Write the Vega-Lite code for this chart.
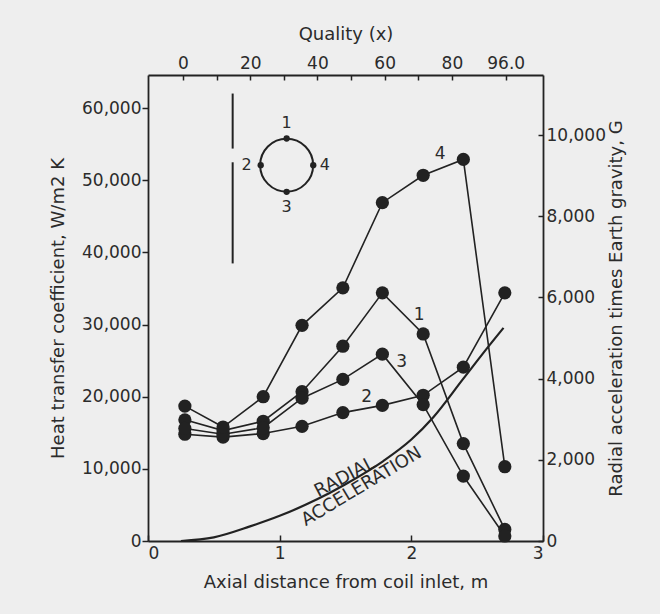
{
  "$schema": "https://vega.github.io/schema/vega-lite/v6.json",
  "width": 395,
  "height": 466,
  "autosize": {"type": "none"},
  "padding": {"left": 148, "top": 75, "right": 117, "bottom": 73},
  "background": "#eeeeee",
  "config": {
    "view": {"stroke": null},
    "font": "DejaVu Sans",
    "axis": {
      "grid": false,
      "domainColor": "#222222",
      "domainWidth": 1.8,
      "tickColor": "#222222",
      "tickWidth": 1.5,
      "labelFont": "DejaVu Sans",
      "labelFontSize": 17,
      "labelColor": "#2b2b2b",
      "titleFont": "DejaVu Sans",
      "titleFontSize": 18,
      "titleFontWeight": "normal",
      "titleColor": "#2b2b2b"
    }
  },
  "datasets": {
    "series": [
      {"series": "1", "d": 0.28, "h": 16800}, {"series": "1", "d": 0.57, "h": 15300}, {"series": "1", "d": 0.875, "h": 16600},
      {"series": "1", "d": 1.17, "h": 20700}, {"series": "1", "d": 1.48, "h": 27000}, {"series": "1", "d": 1.78, "h": 34400},
      {"series": "1", "d": 2.09, "h": 28700}, {"series": "1", "d": 2.395, "h": 13500}, {"series": "1", "d": 2.71, "h": 1600},
      {"series": "2", "d": 0.28, "h": 14800}, {"series": "2", "d": 0.57, "h": 14400}, {"series": "2", "d": 0.875, "h": 14900},
      {"series": "2", "d": 1.17, "h": 15900}, {"series": "2", "d": 1.48, "h": 17800}, {"series": "2", "d": 1.78, "h": 18800},
      {"series": "2", "d": 2.09, "h": 20200}, {"series": "2", "d": 2.395, "h": 24100}, {"series": "2", "d": 2.71, "h": 34400},
      {"series": "3", "d": 0.28, "h": 15600}, {"series": "3", "d": 0.57, "h": 14800}, {"series": "3", "d": 0.875, "h": 15700},
      {"series": "3", "d": 1.17, "h": 19800}, {"series": "3", "d": 1.48, "h": 22400}, {"series": "3", "d": 1.78, "h": 25900},
      {"series": "3", "d": 2.09, "h": 18900}, {"series": "3", "d": 2.395, "h": 9000}, {"series": "3", "d": 2.71, "h": 700},
      {"series": "4", "d": 0.28, "h": 18700}, {"series": "4", "d": 0.57, "h": 15800}, {"series": "4", "d": 0.875, "h": 20000},
      {"series": "4", "d": 1.17, "h": 29900}, {"series": "4", "d": 1.48, "h": 35100}, {"series": "4", "d": 1.78, "h": 46900},
      {"series": "4", "d": 2.09, "h": 50700}, {"series": "4", "d": 2.395, "h": 52900}, {"series": "4", "d": 2.71, "h": 10300}
    ],
    "radial": [
      {"d": 0.25, "g": 0}, {"d": 0.5, "g": 90}, {"d": 0.775, "g": 360}, {"d": 1.0, "g": 620},
      {"d": 1.28, "g": 1020}, {"d": 1.5, "g": 1400}, {"d": 1.787, "g": 1970}, {"d": 2.0, "g": 2500},
      {"d": 2.167, "g": 3050}, {"d": 2.395, "g": 4000}, {"d": 2.6, "g": 4850}, {"d": 2.7, "g": 5250}
    ],
    "labels": [
      {"d": 2.06, "h": 31300, "label": "1"},
      {"d": 1.927, "h": 24800, "label": "3"},
      {"d": 1.661, "h": 20000, "label": "2"},
      {"d": 2.218, "h": 53600, "label": "4"}
    ],
    "insetDots": [
      {"d": 1.053, "h": 55800}, {"d": 1.053, "h": 48400}, {"d": 0.856, "h": 52100}, {"d": 1.255, "h": 52100}
    ],
    "insetLabels": [
      {"d": 1.053, "h": 57900, "label": "1"},
      {"d": 0.749, "h": 52100, "label": "2"},
      {"d": 1.344, "h": 52100, "label": "4"},
      {"d": 1.053, "h": 46300, "label": "3"}
    ],
    "insetRule": [
      {"d": 0.643, "h": 62030, "h2": 54400},
      {"d": 0.643, "h": 52500, "h2": 38480}
    ],
    "curveText": [
      {"d": 1.496, "h": 8800, "label": "RADIAL", "a": -28},
      {"d": 1.623, "h": 7500, "label": "ACCELERATION", "a": -31}
    ]
  },
  "layer": [
    {
      "layer": [
        {
          "data": {"name": "series"},
          "mark": {"type": "line", "color": "#222222", "strokeWidth": 1.6, "point": {"filled": true, "size": 175, "color": "#222222"}},
          "encoding": {
            "x": {"field": "d", "type": "quantitative", "scale": {"domain": [0, 3], "nice": false, "zero": false},
              "axis": {"orient": "bottom", "title": "Axial distance from coil inlet, m", "values": [0, 1, 2, 3], "format": "d", "tickSize": -6, "labelPadding": 10, "titlePadding": 12}},
            "y": {"field": "h", "type": "quantitative", "scale": {"domain": [0, 64600], "nice": false},
              "axis": {"orient": "left", "title": "Heat transfer coefficient, W/m2 K", "values": [0, 10000, 20000, 30000, 40000, 50000, 60000], "format": ",.0f", "tickSize": 6, "labelPadding": 1, "titlePadding": 14}},
            "detail": {"field": "series", "type": "nominal"}
          }
        },
        {
          "data": {"name": "labels"},
          "mark": {"type": "text", "fontSize": 17, "color": "#2b2b2b"},
          "encoding": {
            "x": {"field": "d", "type": "quantitative"},
            "y": {"field": "h", "type": "quantitative"},
            "text": {"field": "label"}
          }
        },
        {
          "data": {"values": [{"d": 1.053, "h": 52100}]},
          "mark": {"type": "point", "shape": "circle", "filled": false, "size": 2809, "strokeWidth": 2, "color": "#222222", "opacity": 1},
          "encoding": {
            "x": {"field": "d", "type": "quantitative"},
            "y": {"field": "h", "type": "quantitative"}
          }
        },
        {
          "data": {"name": "insetDots"},
          "mark": {"type": "point", "shape": "circle", "filled": true, "size": 40, "color": "#222222", "opacity": 1},
          "encoding": {
            "x": {"field": "d", "type": "quantitative"},
            "y": {"field": "h", "type": "quantitative"}
          }
        },
        {
          "data": {"name": "insetLabels"},
          "mark": {"type": "text", "fontSize": 16, "color": "#2b2b2b"},
          "encoding": {
            "x": {"field": "d", "type": "quantitative"},
            "y": {"field": "h", "type": "quantitative"},
            "text": {"field": "label"}
          }
        },
        {
          "data": {"name": "insetRule"},
          "mark": {"type": "rule", "color": "#222222", "strokeWidth": 2},
          "encoding": {
            "x": {"field": "d", "type": "quantitative"},
            "y": {"field": "h", "type": "quantitative"},
            "y2": {"field": "h2"}
          }
        },
        {
          "data": {"name": "curveText"},
          "mark": {"type": "text", "fontSize": 18, "color": "#2b2b2b"},
          "encoding": {
            "x": {"field": "d", "type": "quantitative"},
            "y": {"field": "h", "type": "quantitative"},
            "text": {"field": "label"},
            "angle": {"field": "a", "type": "quantitative", "scale": null}
          }
        }
      ]
    },
    {
      "data": {"name": "radial"},
      "mark": {"type": "line", "color": "#222222", "strokeWidth": 2.2, "interpolate": "monotone"},
      "encoding": {
        "x": {"field": "d", "type": "quantitative", "scale": {"domain": [0, 3], "nice": false, "zero": false}, "axis": null},
        "y": {"field": "g", "type": "quantitative", "scale": {"domain": [0, 11480], "nice": false},
          "axis": {"orient": "right", "title": "Radial acceleration times Earth gravity, G", "values": [0, 2000, 4000, 6000, 8000, 10000], "format": ",.0f", "tickSize": -5, "labelPadding": 8, "titlePadding": 2, "titleAngle": 270, "titleBaseline": "top"}}
      }
    },
    {
      "data": {"values": [{"q": 0}]},
      "mark": {"type": "point", "opacity": 0},
      "encoding": {
        "x": {"field": "q", "type": "quantitative", "scale": {"domain": [-10.4, 107.1], "nice": false, "zero": false},
          "axis": {"orient": "top", "title": "Quality (x)", "values": [0, 10, 20, 30, 40, 50, 60, 70, 80, 96],
            "labelExpr": "datum.value == 96 ? '96.0' : (datum.value % 20 == 0 ? datum.label : '')",
            "tickSize": -5, "labelPadding": 8, "titlePadding": 11}}
      }
    }
  ],
  "resolve": {"scale": {"x": "independent", "y": "independent"}}
}
